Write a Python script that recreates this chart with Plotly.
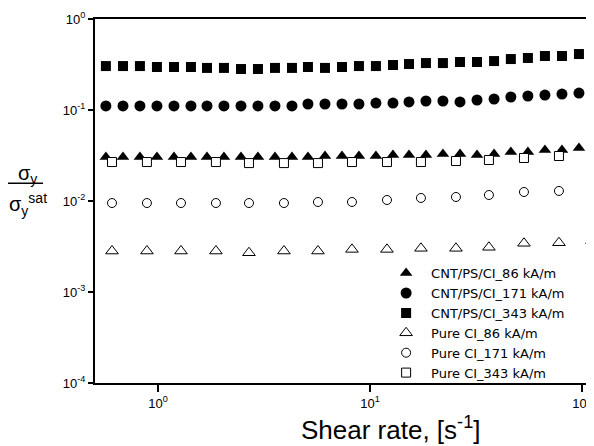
import plotly.graph_objects as go

# Shear rate values (s^-1)
shear_cnt = [0.568, 0.684, 0.822, 0.989, 1.19, 1.431, 1.703, 2.048, 2.464, 2.963,
             3.564, 4.287, 5.10, 6.135, 7.38, 8.874, 10.67, 12.84, 15.28, 18.37,
             22.09, 26.6, 31.99, 38.5, 46.2, 55.6, 66.9, 80.5, 96.8]
shear_pure = [0.607, 0.887, 1.284, 1.877, 2.687, 3.929, 5.685, 8.226, 12.03, 17.40,
              25.45, 36.41, 53.27, 77.9, 111.5]

cnt_86 = [0.0305, 0.0305, 0.0305, 0.0305, 0.0305, 0.0305, 0.0305, 0.0305, 0.0305, 0.0305,
          0.0305, 0.0305, 0.0305, 0.0313, 0.0313, 0.0313, 0.0313, 0.0321, 0.0321, 0.0321,
          0.0329, 0.0329, 0.0321, 0.0329, 0.0346, 0.0346, 0.0364, 0.0364, 0.0382]
cnt_171 = [0.1107, 0.1107, 0.1107, 0.1107, 0.1107, 0.1107, 0.1107, 0.1107, 0.1107, 0.1107,
           0.1107, 0.1107, 0.1164, 0.1164, 0.1164, 0.1164, 0.1193, 0.1193, 0.1226, 0.1256,
           0.1256, 0.1226, 0.1288, 0.1321, 0.139, 0.1425, 0.146, 0.1497, 0.1535]
cnt_343 = [0.304, 0.304, 0.304, 0.297, 0.297, 0.297, 0.290, 0.290, 0.282, 0.282,
           0.290, 0.290, 0.297, 0.290, 0.297, 0.304, 0.304, 0.312, 0.320, 0.328,
           0.328, 0.337, 0.337, 0.345, 0.363, 0.373, 0.392, 0.392, 0.412]
pure_86 = [0.00282, 0.00282, 0.00282, 0.00282, 0.0027, 0.00282, 0.00282, 0.00294, 0.00294,
           0.00302, 0.00302, 0.0031, 0.00343, 0.00348, 0.00366]
pure_171 = [0.0095, 0.0095, 0.0095, 0.0095, 0.0095, 0.0095, 0.00975, 0.00975, 0.01026,
            0.0108, 0.01107, 0.01164, 0.01256, 0.0129, 0.0139]
pure_343 = [0.0268, 0.0268, 0.0268, 0.0268, 0.0261, 0.0261, 0.0261, 0.0268, 0.0268,
            0.0268, 0.0275, 0.0282, 0.0297, 0.0312, 0.0328]

names = ["CNT/PS/CI_86 kA/m", "CNT/PS/CI_171 kA/m", "CNT/PS/CI_343 kA/m",
         "Pure CI_86 kA/m", "Pure CI_171 kA/m", "Pure CI_343 kA/m"]

y_tickvals = [1e-4, 1e-3, 1e-2, 1e-1, 1]
y_ticktext = ["10<sup>-4</sup>", "10<sup>-3</sup>", "10<sup>-2</sup>", "10<sup>-1</sup>", "10<sup>0</sup>"]
x_tickvals = [1, 10, 100]
x_ticktext = ["10<sup>0</sup>", "10<sup>1</sup>", "10<sup>2</sup>"]

FONT = "Liberation Sans, Arial, sans-serif"

fig = go.Figure()
fig.add_trace(go.Scatter(x=shear_cnt, y=cnt_86, mode="markers", name=names[0],
                         marker=dict(symbol="triangle-up", size=11, color="black")))
fig.add_trace(go.Scatter(x=shear_cnt, y=cnt_171, mode="markers", name=names[1],
                         marker=dict(symbol="circle", size=11, color="black")))
fig.add_trace(go.Scatter(x=shear_cnt, y=cnt_343, mode="markers", name=names[2],
                         marker=dict(symbol="square", size=10, color="black")))
fig.add_trace(go.Scatter(x=shear_pure, y=pure_86, mode="markers", name=names[3],
                         marker=dict(symbol="triangle-up", size=11, color="white",
                                     line=dict(color="black", width=1))))
fig.add_trace(go.Scatter(x=shear_pure, y=pure_171, mode="markers", name=names[4],
                         marker=dict(symbol="circle", size=9, color="white",
                                     line=dict(color="black", width=1))))
fig.add_trace(go.Scatter(x=shear_pure, y=pure_343, mode="markers", name=names[5],
                         marker=dict(symbol="square", size=9, color="white",
                                     line=dict(color="black", width=1))))

# page body has an 8px margin, so the figure is sized to fit the 594x446 window
fig.update_layout(
    width=586, height=438,
    margin=dict(l=87, r=4, t=11, b=63, autoexpand=False),
    paper_bgcolor="white", plot_bgcolor="white",
    font=dict(family=FONT, color="black", size=13),
    showlegend=True,
    legend=dict(x=0.578, y=0.343, xanchor="left", yanchor="top",
                bgcolor="rgba(0,0,0,0)",
                font=dict(size=13, family="DejaVu Sans, Liberation Sans, sans-serif"),
                itemwidth=40),
    xaxis=dict(type="log", range=[-0.297, 2.038], tickmode="array",
               tickvals=x_tickvals, ticktext=x_ticktext, ticks="outside",
               ticklen=7, tickwidth=2, tickcolor="black", showline=True,
               linecolor="black", linewidth=2, mirror=True, showgrid=False,
               zeroline=False, tickfont=dict(size=13), automargin=False),
    yaxis=dict(type="log", range=[-4, 0], tickmode="array",
               tickvals=y_tickvals, ticktext=y_ticktext, ticks="outside",
               ticklen=5, tickwidth=2, tickcolor="black", showline=True,
               linecolor="black", linewidth=2, mirror=True, showgrid=False,
               zeroline=False, tickfont=dict(size=13), automargin=False),
    annotations=[
        dict(text="Shear rate, [s<sup>-1</sup>]", xref="paper", yref="paper",
             x=0.596, y=-0.124, xanchor="center", yanchor="middle",
             showarrow=False, font=dict(size=26, family=FONT)),
        dict(text="σ<sub>y</sub>", xref="paper", yref="paper",
             x=-0.1354, y=0.573, xanchor="center", yanchor="middle",
             showarrow=False, font=dict(size=20, family=FONT)),
        dict(text="σ<sub>y</sub><sup>sat</sup>", xref="paper", yref="paper",
             x=-0.1354, y=0.49, xanchor="center", yanchor="middle",
             showarrow=False, font=dict(size=20, family=FONT)),
    ],
    shapes=[dict(type="line", xref="paper", yref="paper", x0=-0.1758, x1=-0.105,
                 y0=0.549, y1=0.549, line=dict(color="black", width=1.5))],
)

fig.write_html("out.html")
